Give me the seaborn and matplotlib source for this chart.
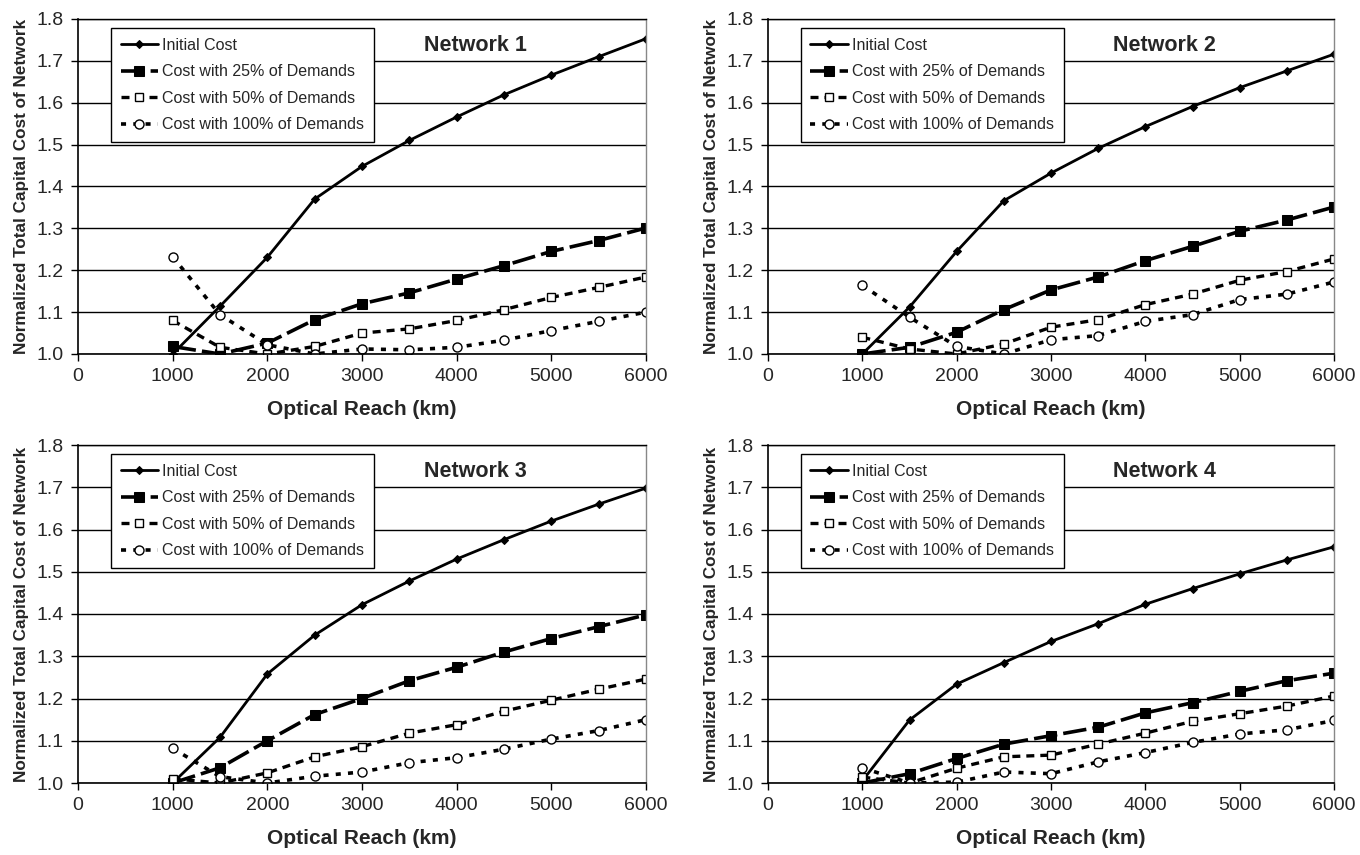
import matplotlib
matplotlib.use("Agg")
import matplotlib.pyplot as plt
import seaborn as sns
import pandas as pd

reach = [1000, 1500, 2000, 2500, 3000, 3500, 4000, 4500, 5000, 5500, 6000]

n1_initial = [1.000, 1.114, 1.231, 1.370, 1.448, 1.510, 1.566, 1.619, 1.666, 1.710, 1.753]
n1_d25 = [1.018, 1.000, 1.026, 1.082, 1.120, 1.146, 1.179, 1.211, 1.245, 1.271, 1.301]
n1_d50 = [1.080, 1.016, 1.000, 1.018, 1.050, 1.060, 1.080, 1.106, 1.135, 1.159, 1.184]
n1_d100 = [1.232, 1.094, 1.022, 1.000, 1.012, 1.010, 1.016, 1.033, 1.056, 1.078, 1.100]

n2_initial = [1.000, 1.112, 1.245, 1.366, 1.432, 1.491, 1.543, 1.591, 1.636, 1.676, 1.716]
n2_d25 = [1.000, 1.016, 1.052, 1.106, 1.153, 1.184, 1.223, 1.257, 1.293, 1.320, 1.351]
n2_d50 = [1.040, 1.012, 1.000, 1.024, 1.064, 1.082, 1.118, 1.143, 1.176, 1.197, 1.227]
n2_d100 = [1.164, 1.088, 1.018, 1.000, 1.034, 1.044, 1.078, 1.094, 1.130, 1.143, 1.172]

n3_initial = [1.000, 1.108, 1.258, 1.350, 1.422, 1.478, 1.530, 1.576, 1.620, 1.660, 1.698]
n3_d25 = [1.000, 1.036, 1.100, 1.162, 1.200, 1.242, 1.274, 1.310, 1.342, 1.370, 1.398]
n3_d50 = [1.010, 1.000, 1.024, 1.062, 1.086, 1.118, 1.138, 1.170, 1.196, 1.222, 1.246]
n3_d100 = [1.082, 1.015, 1.000, 1.016, 1.026, 1.048, 1.060, 1.080, 1.104, 1.124, 1.150]

n4_initial = [1.005, 1.149, 1.234, 1.285, 1.335, 1.377, 1.423, 1.460, 1.495, 1.528, 1.559]
n4_d25 = [1.000, 1.022, 1.058, 1.092, 1.112, 1.132, 1.166, 1.190, 1.217, 1.242, 1.260]
n4_d50 = [1.014, 1.000, 1.035, 1.062, 1.066, 1.092, 1.118, 1.146, 1.164, 1.182, 1.206]
n4_d100 = [1.036, 1.000, 1.002, 1.026, 1.022, 1.050, 1.072, 1.096, 1.116, 1.126, 1.148]

series_labels = ["Initial Cost", "Cost with 25% of Demands",
                 "Cost with 50% of Demands", "Cost with 100% of Demands"]
network_titles = ["Network 1", "Network 2", "Network 3", "Network 4"]
x_ticks = [0, 1000, 2000, 3000, 4000, 5000, 6000]
y_ticks = [1.0, 1.1, 1.2, 1.3, 1.4, 1.5, 1.6, 1.7, 1.8]
x_label = "Optical Reach (km)"
y_label = "Normalized Total Capital Cost of Network"

networks = [
    [n1_initial, n1_d25, n1_d50, n1_d100],
    [n2_initial, n2_d25, n2_d50, n2_d100],
    [n3_initial, n3_d25, n3_d50, n3_d100],
    [n4_initial, n4_d25, n4_d50, n4_d100],
]

sns.set_style("white")
plt.rcParams['font.family'] = ['Liberation Sans', 'DejaVu Sans']

styles = [
    dict(linestyle="-", linewidth=2.0, marker="D", markersize=4.5,
         markerfacecolor="black", markeredgecolor="black"),
    dict(linestyle=(0, (6.5, 1.7)), linewidth=2.6, marker="s", markersize=7.5,
         markerfacecolor="black", markeredgecolor="black"),
    dict(linestyle=(0, (2.4, 1.8)), linewidth=2.4, marker="s", markersize=6,
         markerfacecolor="white", markeredgecolor="black", markeredgewidth=1.0),
    dict(linestyle=(0, (1.4, 2.0)), linewidth=2.6, marker="o", markersize=6.5,
         markerfacecolor="white", markeredgecolor="black", markeredgewidth=1.0),
]

fig = plt.figure(figsize=(13.6, 8.55), dpi=100)
W, H = 1360.0, 855.0
positions = [
    [78 / W, 1 - 354 / H, 568 / W, 335 / H],
    [768 / W, 1 - 354 / H, 566 / W, 335 / H],
    [78 / W, 1 - 783 / H, 568 / W, 338 / H],
    [768 / W, 1 - 783 / H, 566 / W, 338 / H],
]

for i, (pos, data, title) in enumerate(zip(positions, networks, network_titles)):
    ax = fig.add_axes(pos)
    for vals, lab, st in zip(data, series_labels, styles):
        df = pd.DataFrame({"x": reach, "y": vals})
        sns.lineplot(data=df, x="x", y="y", ax=ax, color="black", label=lab, **st)
    ax.set_xlim(0, 6000)
    ax.set_ylim(1.0, 1.8)
    ax.set_xticks(x_ticks)
    ax.set_yticks(y_ticks)
    ax.set_yticklabels([f"{v:.1f}" for v in y_ticks])
    ax.yaxis.grid(True, color="black", linewidth=1.0)
    ax.set_axisbelow(True)
    ax.tick_params(axis="both", labelsize=14, length=5, width=1, direction="out",
                   color="black", bottom=True, left=True, pad=5)
    for side in ["left", "bottom"]:
        ax.spines[side].set_color("black")
        ax.spines[side].set_linewidth(1.2)
    ax.spines["top"].set_color("black")
    ax.spines["top"].set_linewidth(1.0)
    ax.spines["right"].set_color("#888888")
    ax.spines["right"].set_linewidth(1.0)
    ax.set_xlabel(x_label, fontsize=15, fontweight="bold", labelpad=11)
    ax.set_ylabel(y_label, fontsize=12.3, fontweight="bold", labelpad=6)
    ax.text(0.70, 0.922, title, transform=ax.transAxes, fontsize=15.5,
            fontweight="bold", ha="center", va="center")
    leg = ax.legend(loc="upper left", bbox_to_anchor=(0.058, 0.973), fontsize=11.5,
                    frameon=True, fancybox=False, edgecolor="black",
                    handlelength=2.35, handletextpad=0.25, labelspacing=0.72,
                    borderpad=0.6, borderaxespad=0.0, framealpha=1.0)
    leg.get_frame().set_linewidth(1.0)

fig.savefig("out.png", dpi=100)
